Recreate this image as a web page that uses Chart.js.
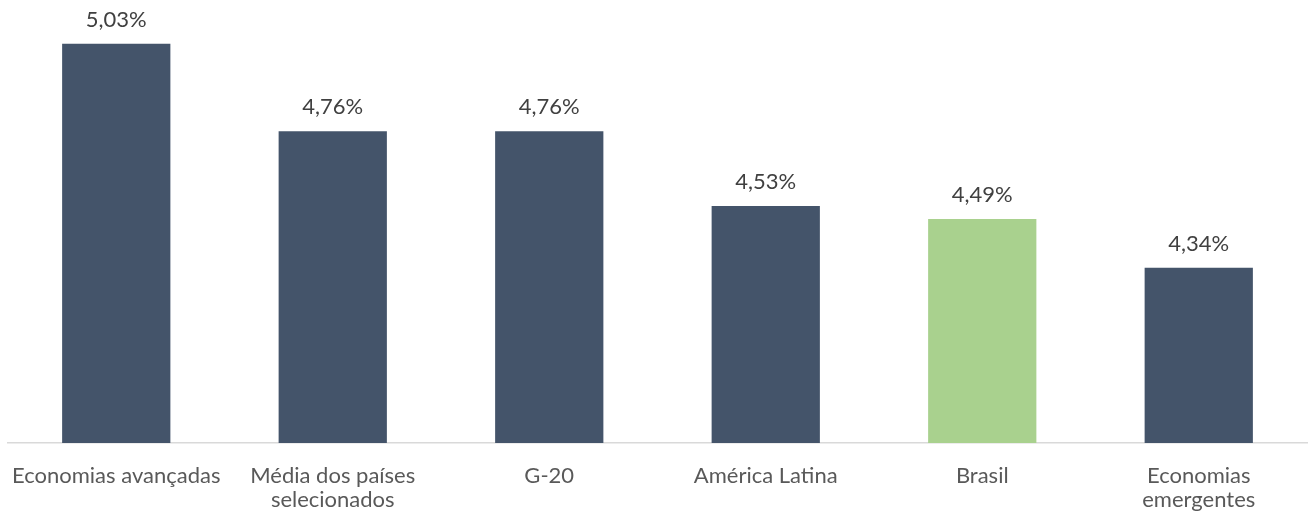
<!DOCTYPE html>
<html>
<head>
<meta charset="utf-8">
<style>
  html, body { margin: 0; padding: 0; background: #ffffff; }
  #wrap { width: 1309px; height: 518px; position: relative; }
</style>
<script src="https://cdn.jsdelivr.net/npm/chart.js@4/dist/chart.umd.min.js"></script>
</head>
<body>
<div id="wrap"><canvas id="chart"></canvas></div>
<script>
// Categories (multi-line labels are arrays)
const categories = [
  'Economias avançadas',
  ['Média dos países', 'selecionados'],
  'G-20',
  'América Latina',
  'Brasil',
  ['Economias', 'emergentes']
];
// Values in percent
const values = [5.03, 4.76, 4.76, 4.53, 4.49, 4.34];
// Bar colours: Brasil highlighted in green
const barColors = ['#44546A', '#44546A', '#44546A', '#44546A', '#A9D18E', '#44546A'];

const FONT = 'Lato, "Open Sans", sans-serif';

const valueLabels = {
  id: 'valueLabels',
  afterDatasetsDraw(chart) {
    const ctx = chart.ctx;
    const meta = chart.getDatasetMeta(0);
    ctx.save();
    ctx.font = '22px ' + FONT;
    ctx.fillStyle = '#404040';
    ctx.textAlign = 'center';
    ctx.textBaseline = 'middle';
    meta.data.forEach((bar, i) => {
      const txt = values[i].toFixed(2).replace('.', ',') + '%';
      ctx.fillText(txt, bar.x, bar.y - 24);
    });
    ctx.restore();
  }
};

new Chart(document.getElementById('chart'), {
  type: 'bar',
  data: {
    labels: categories,
    datasets: [{
      data: values,
      backgroundColor: barColors,
      borderWidth: 0,
      barPercentage: 0.5,
      categoryPercentage: 1.0
    }]
  },
  options: {
    responsive: true,
    maintainAspectRatio: false,
    animation: false,
    layout: { padding: { left: 8, right: 2, top: 21, bottom: 5 } },
    plugins: {
      legend: { display: false },
      tooltip: { enabled: false }
    },
    scales: {
      x: {
        grid: { display: false, drawTicks: false },
        border: { color: '#D9D9D9', width: 1.5 },
        ticks: {
          color: '#595959',
          font: { family: FONT, size: 22, lineHeight: 1.1 },
          padding: 21,
          maxRotation: 0,
          autoSkip: false
        },
        afterFit(scale) {
          // fixed label band under the axis, no extra side padding for wide labels
          scale.height = 70;
          scale.paddingLeft = 0;
          scale.paddingRight = 0;
        }
      },
      y: {
        display: false,
        min: 3.8,
        max: 5.1
      }
    }
  },
  plugins: [valueLabels]
});
</script>
</body>
</html>
